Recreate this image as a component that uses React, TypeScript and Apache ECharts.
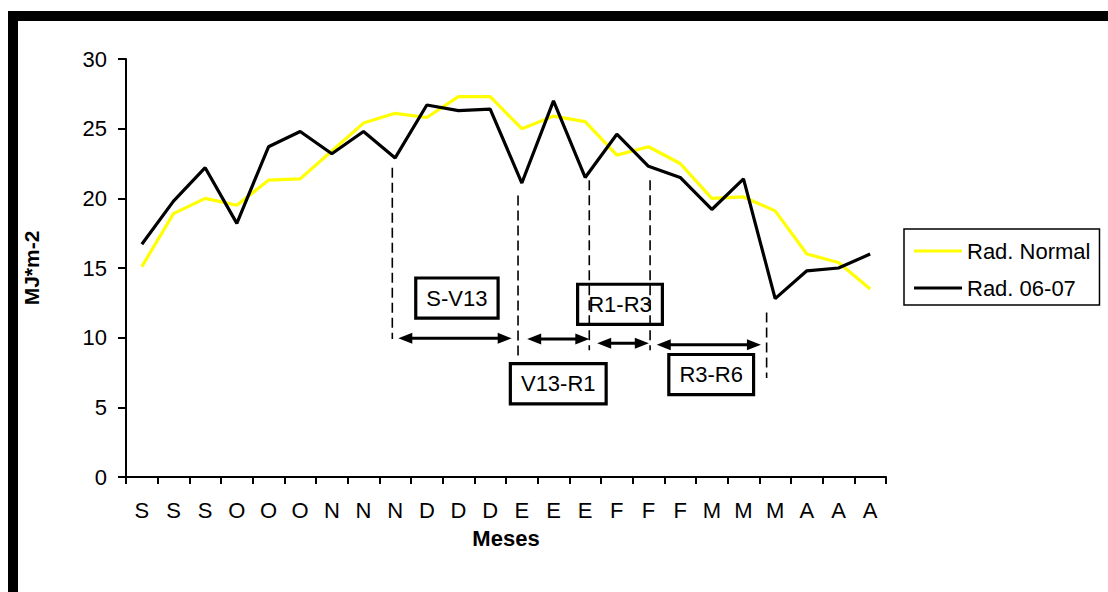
import React, { useEffect, useRef } from "react";
import * as echarts from "echarts";

// Month initials, three readings per month (September to April)
const months = [
  "S", "S", "S", "O", "O", "O", "N", "N", "N", "D", "D", "D",
  "E", "E", "E", "F", "F", "F", "M", "M", "M", "A", "A", "A",
];

// Average radiation for each period (MJ*m-2)
const radNormal = [
  15.1, 18.9, 20.0, 19.5, 21.3, 21.4, 23.4, 25.4, 26.1, 25.8, 27.3, 27.3,
  25.0, 25.9, 25.5, 23.1, 23.7, 22.5, 20.0, 20.1, 19.1, 16.0, 15.4, 13.5,
];

// Radiation measured during the 2006-07 season (MJ*m-2)
const rad0607 = [
  16.7, 19.8, 22.2, 18.2, 23.7, 24.8, 23.2, 24.8, 22.9, 26.7, 26.3, 26.4,
  21.1, 27.0, 21.5, 24.6, 22.3, 21.5, 19.2, 21.4, 12.8, 14.8, 15.0, 16.0,
];

const yMin = 0;
const yMax = 30;
const yStep = 5;

// Crop stage limits: [position along the 24 periods, top value, bottom value]
const stageLimits: [number, number, number][] = [
  [8.41, 22.2, 9.9],
  [12.38, 20.2, 8.5],
  [14.63, 21.3, 9.1],
  [16.55, 21.3, 9.1],
  [20.23, 11.8, 7.1],
];

// Stage spans: [start, end, value level]
const stageSpans: [number, number, number][] = [
  [8.6, 12.18, 9.95],
  [12.67, 14.63, 9.9],
  [14.88, 16.51, 9.6],
  [16.76, 20.05, 9.5],
];

// Stage names with the centre of their label box: [name, position, value level]
const stageNames: [string, number, number][] = [
  ["S-V13", 10.45, 12.84],
  ["V13-R1", 13.65, 6.69],
  ["R1-R3", 15.6, 12.39],
  ["R3-R6", 18.48, 7.35],
];

const FONT = "'Liberation Sans', Arial, Helvetica, sans-serif";

export default function App() {
  const ref = useRef<HTMLDivElement>(null);

  useEffect(() => {
    if (!ref.current) return;
    const chart = echarts.init(ref.current, undefined, { renderer: "svg" });

    chart.setOption({
      animation: false,
      backgroundColor: "#fff",
      textStyle: { fontFamily: FONT },
      grid: { left: 126, right: 222, top: 59, bottom: 115, containLabel: false },
      legend: {
        orient: "vertical",
        left: 904,
        top: 229,
        padding: [11, 9, 6, 10],
        itemGap: 15,
        itemWidth: 48,
        itemHeight: 3,
        borderColor: "#000",
        borderWidth: 1.5,
        textStyle: { fontSize: 22, color: "#000", fontFamily: FONT, lineHeight: 22 },
        data: [
          { name: "Rad. Normal", icon: "rect" },
          { name: "Rad. 06-07", icon: "rect" },
        ],
      },
      xAxis: [
        {
          type: "category",
          data: months,
          boundaryGap: true,
          name: "Meses",
          nameLocation: "middle",
          nameGap: 50,
          nameTextStyle: { fontSize: 22, fontWeight: "bold", color: "#000", fontFamily: FONT },
          axisLine: { lineStyle: { color: "#000", width: 2 } },
          axisTick: { show: true, length: 7, lineStyle: { color: "#000", width: 2 }, interval: 0 },
          axisLabel: { interval: 0, fontSize: 22, color: "#000", margin: 22, fontFamily: FONT },
          splitLine: { show: false },
        },
        {
          // plain numeric axis spanning the same width, used to place the stage notes
          type: "value",
          min: 0,
          max: 24,
          show: false,
          splitLine: { show: false },
        },
      ],
      yAxis: {
        type: "value",
        min: yMin,
        max: yMax,
        interval: yStep,
        name: "MJ*m-2",
        nameLocation: "middle",
        nameGap: 84,
        nameTextStyle: { fontSize: 21, fontWeight: "bold", color: "#000", fontFamily: FONT },
        axisLine: { show: true, lineStyle: { color: "#000", width: 2 } },
        axisTick: { show: true, length: 8, lineStyle: { color: "#000", width: 2 } },
        axisLabel: { fontSize: 22, color: "#000", margin: 19, fontFamily: FONT },
        splitLine: { show: false },
      },
      series: [
        {
          name: "Rad. Normal",
          type: "line",
          data: radNormal,
          symbol: "none",
          lineStyle: { color: "#FFFF00", width: 3.2 },
          itemStyle: { color: "#FFFF00" },
        },
        {
          name: "Rad. 06-07",
          type: "line",
          data: rad0607,
          symbol: "none",
          lineStyle: { color: "#000", width: 3.2 },
          itemStyle: { color: "#000" },
        },
      ],
    });

    const px = (x: number, y: number): [number, number] => [
      chart.convertToPixel({ xAxisIndex: 1 }, x) as number,
      chart.convertToPixel({ yAxisIndex: 0 }, y) as number,
    ];

    const elements: any[] = [];

    // frame around the figure
    elements.push({
      type: "rect",
      z: 5,
      shape: { x: 13, y: 16, width: 1300, height: 800 },
      style: { fill: "none", stroke: "#000", lineWidth: 10 },
      silent: true,
    });

    stageNames.forEach(([name, x, y]) => {
      const [cx, cy] = px(x, y);
      elements.push({
        type: "text",
        z: 10,
        x: cx,
        y: cy,
        style: {
          text: name,
          fontSize: 22,
          fontFamily: FONT,
          fill: "#000",
          align: "center",
          verticalAlign: "middle",
          backgroundColor: "#fff",
          borderColor: "#000",
          borderWidth: 3.2,
          padding: [8, 9, 7, 9],
        },
        silent: true,
      });
    });

    stageLimits.forEach(([x, top, bottom]) => {
      const [x1, y1] = px(x, top);
      const [, y2] = px(x, bottom);
      elements.push({
        type: "line",
        z: 11,
        shape: { x1, y1, x2: x1, y2 },
        style: { stroke: "#000", lineWidth: 1.6, lineDash: [10, 5] },
        silent: true,
      });
    });

    const head = 14;
    const half = 5.5;
    stageSpans.forEach(([a, b, y]) => {
      const [xa, yy] = px(a, y);
      const [xb] = px(b, y);
      elements.push({
        type: "line",
        z: 12,
        shape: { x1: xa + head - 2, y1: yy, x2: xb - head + 2, y2: yy },
        style: { stroke: "#000", lineWidth: 3 },
        silent: true,
      });
      elements.push({
        type: "polygon",
        z: 12,
        shape: { points: [[xa, yy], [xa + head, yy - half], [xa + head, yy + half]] },
        style: { fill: "#000" },
        silent: true,
      });
      elements.push({
        type: "polygon",
        z: 12,
        shape: { points: [[xb, yy], [xb - head, yy - half], [xb - head, yy + half]] },
        style: { fill: "#000" },
        silent: true,
      });
    });

    chart.setOption({ graphic: elements });

    return () => chart.dispose();
  }, []);

  return (
    <div
      ref={ref}
      style={{ position: "fixed", left: 0, top: 0, width: 1108, height: 592 }}
    />
  );
}
